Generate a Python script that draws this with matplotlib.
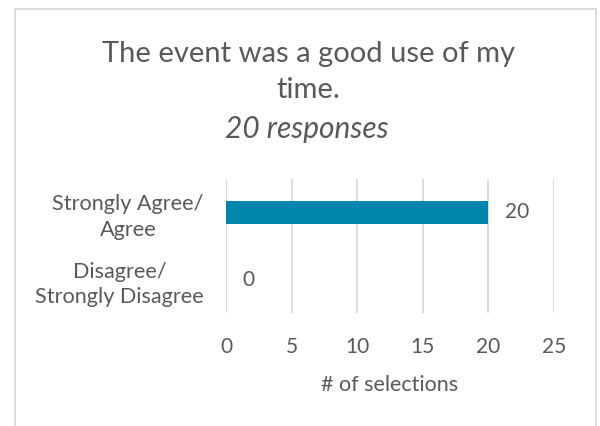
import matplotlib
matplotlib.use("Agg")
import matplotlib.pyplot as plt
from matplotlib.patches import Rectangle

plt.rcParams['font.family'] = ['Lato', 'DejaVu Sans']

# chart data
categories = ["Strongly Agree/\nAgree", "Disagree/\nStrongly Disagree"]
counts = [20, 0]
x_ticks = [0, 5, 10, 15, 20, 25]
title_text = "The event was a good use of my\ntime."
subtitle_text = "20 responses"
x_label = "# of selections"

text_color = "#595959"
grid_color = "#D9D9D9"
bar_color = "#0086AC"

W, H = 600, 426
fig = plt.figure(figsize=(W / 100, H / 100), dpi=100)

# outer chart border (bottom edge runs off the picture)
fig.patches.append(Rectangle((15 / W, -0.05), (596 - 15) / W, 1.05 - 9 / H,
                             transform=fig.transFigure, fill=False,
                             edgecolor=grid_color, linewidth=1.3))

# plot area
left, right, top, bottom = 226, 554, 179, 313
ax = fig.add_axes([left / W, 1 - bottom / H, (right - left) / W, (bottom - top) / H])

ypos = list(range(len(categories)))[::-1]
ax.barh(ypos, counts, height=0.35, color=bar_color, zorder=2)
for y, v in zip(ypos, counts):
    ax.annotate(str(v), (v, y), xytext=(12, 0), textcoords="offset points",
                va="center", ha="left", fontsize=15, color=text_color)

ax.set_xlim(0, 25)
ax.set_ylim(-0.5, 1.5)
ax.set_xticks(x_ticks)
ax.set_yticks(ypos)
ax.set_yticklabels(categories, fontsize=15.6, color=text_color, linespacing=1.35)
for lbl in ax.get_yticklabels():
    lbl.set_multialignment("center")
ax.tick_params(axis="both", length=0, colors=text_color)
ax.tick_params(axis="x", labelsize=15, pad=17)
ax.tick_params(axis="y", pad=16)
ax.grid(axis="x", color=grid_color, linewidth=1.3, zorder=0)
for s in ax.spines.values():
    s.set_visible(False)
ax.set_xlabel(x_label, fontsize=15.5, color=text_color, labelpad=13)

# title block
fig.text(308 / W, 1 - 72 / H, title_text, ha="center", va="center",
         fontsize=21, color=text_color, linespacing=1.45)
fig.text(307 / W, 1 - 129 / H, subtitle_text, ha="center", va="center",
         fontsize=21.5, color=text_color, style="italic")

fig.savefig("out.png", dpi=100, facecolor="white")
